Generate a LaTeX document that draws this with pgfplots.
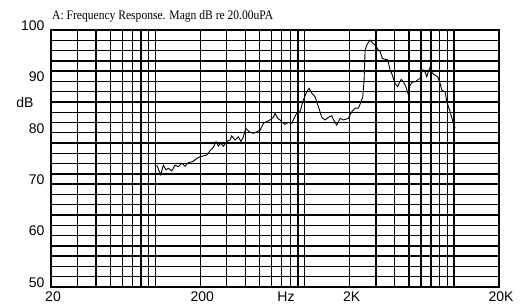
\documentclass[border=0pt]{standalone}
\usepackage{fontspec}
\setmainfont{Liberation Serif}
\setsansfont{Liberation Sans}
\newfontfamily\titlefont[FakeStretch=0.89]{Liberation Serif}
\usepackage{pgfplots}
\pgfplotsset{compat=1.18}
\begin{document}
\begin{tikzpicture}
\begin{axis}[
  name=ax,
  scale only axis,
  width=448pt, height=257pt,
  xmode=log, log basis x=10,
  xmin=20, xmax=20000, ymin=50, ymax=100,
  xtick={20,200,2000,20000},
  xticklabels={20,200,2K,20K},
  minor xtick={30,40,50,60,70,80,90,100,300,400,500,600,700,800,900,1000,3000,4000,5000,6000,7000,8000,9000,10000},
  extra x ticks={727},
  extra x tick labels={Hz},
  extra x tick style={grid=none, major tick length=0pt},
  ytick={50,60,70,80,90,100},
  minor ytick={52,54,56,58,62,64,66,68,72,74,76,78,82,84,86,88,92,94,96,98},
  grid=both,
  major grid style={black, line width=1.4pt},
  minor grid style={black, line width=1.4pt},
  major tick length=0pt, minor tick length=0pt,
  axis line style={black, line width=2pt},
  /pgf/number format/assume math mode=true,
  ticklabel style={font=\sffamily\fontsize{14}{14}\selectfont},
  xticklabel style={xshift=2pt, yshift=-1pt},
  yticklabel style={xshift=-3pt, yshift=4.5pt},
  log ticks with fixed point,
]
\addplot[black, line width=0.9pt] coordinates {
(102.1,73.7) (108.6,71.8) (113.0,73.7) (117.8,72.8) (122.1,73.1) (128.7,72.6)
(135.4,73.7) (142.5,73.4) (150.1,74.1) (157.9,73.5) (166.2,74.2) (177.9,74.4)
(189.2,75.0) (199.1,75.35) (209.5,75.5) (220.8,75.7) (232.3,76.5) (244.4,77.2)
(254.8,78.3) (264.0,77.4) (274.0,78.0) (285.1,77.4) (300.5,78.3) (316.2,78.6)
(324.6,79.4) (341.6,78.6) (359.4,79.2) (374.7,78.3) (388.2,79.2) (402.9,80.9)
(423.9,80.2) (452.9,79.9) (477.4,80.2) (502.3,80.5) (528.4,81.8) (556.8,82.2)
(586.0,82.5) (616.6,83.0) (632.8,83.8) (659.7,82.8) (683.5,82.5) (708.2,82.0)
(736.6,81.65) (775.0,82.0) (817.0,81.85) (848.2,82.8) (884.4,83.8) (930.7,84.1)
(979.3,86.4) (1032,88.0) (1069,88.65) (1115,87.7) (1173,87.0) (1234,85.1)
(1301,83.0) (1368,82.5) (1439,83.0) (1517,83.3) (1555,82.6) (1639,81.5)
(1725,82.8) (1815,82.5) (1960,82.8) (2066,84.1) (2174,84.8) (2288,84.8)
(2385,86.05) (2448,87.0) (2498,90.3) (2537,96.1) (2603,97.1) (2739,98.05)
(2856,97.4) (2959,97.1) (3114,96.1) (3197,95.8) (3311,94.5) (3452,94.3)
(3599,94.2) (3729,92.2) (3864,91.2) (4029,89.6) (4200,89.0) (4285,89.6)
(4419,90.4) (4579,89.9) (4752,89.0) (4946,87.4) (5077,89.3) (5260,89.9)
(5484,89.9) (5716,90.3) (5922,90.6) (6136,92.2) (6328,92.2) (6567,90.9)
(6731,91.9) (6909,92.7) (7159,91.6) (7464,91.2) (7782,90.9) (8063,89.6)
(8277,88.3) (8710,88.0) (8942,86.05) (9407,84.1) (9897,81.85) (10160,80.9)
};
\end{axis}
\node[anchor=base west, font=\titlefont\fontsize{13}{14}\selectfont, inner sep=0pt] at ([shift={(1pt,10pt)}]ax.north west) {A: Frequency Response. Magn dB re 20.00uPA};
\node[font=\sffamily\fontsize{14}{14}\selectfont] at ([shift={(-26pt,184pt)}]ax.south west) {dB};
\pgfresetboundingbox
\path[use as bounding box] ([shift={(-51pt,-17pt)}]ax.south west) rectangle ([shift={(24pt,30pt)}]ax.north east);
\end{tikzpicture}
\end{document}
